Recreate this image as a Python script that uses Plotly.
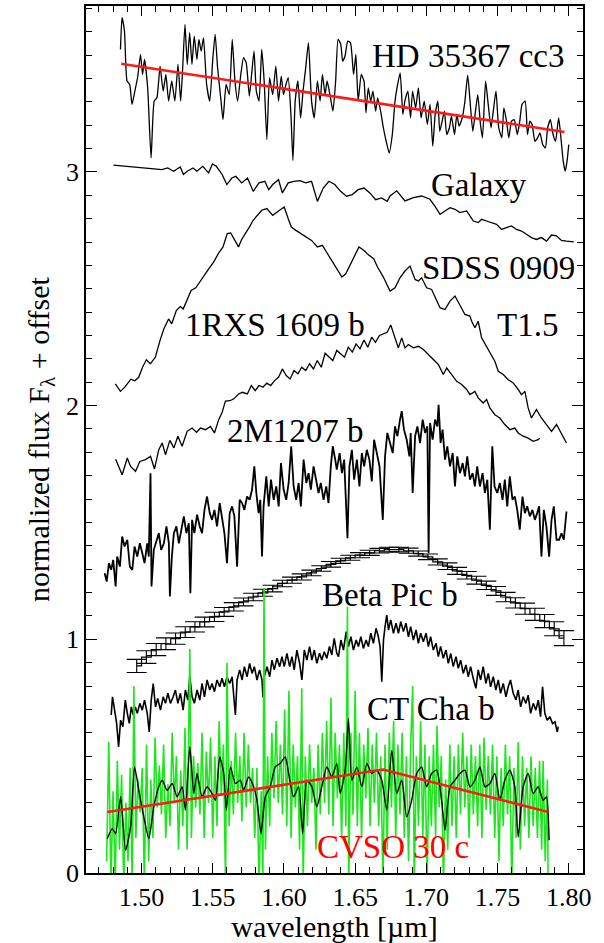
import plotly.graph_objects as go

# ---------------- data (wavelength [um], normalized flux + offset) ----------------
hd35367 = [
(1.4852,3.524),(1.4863,3.660),(1.4880,3.603),(1.4898,3.389),(1.4917,3.374),(1.4933,3.289),(1.4953,3.346),
(1.4972,3.403),(1.4993,3.503),(1.5007,3.417),(1.5021,3.481),(1.5043,3.360),(1.5067,3.060),(1.5089,3.303),
(1.5108,3.317),(1.5130,3.453),(1.5152,3.346),(1.5171,3.417),(1.5190,3.303),(1.5212,3.389),(1.5234,3.303),
(1.5256,3.460),(1.5275,3.303),(1.5289,3.446),(1.5305,3.631),(1.5321,3.460),(1.5338,3.596),(1.5354,3.460),
(1.5370,3.581),(1.5389,3.481),(1.5403,3.567),(1.5419,3.517),(1.5435,3.574),(1.5457,3.374),(1.5479,3.303),
(1.5501,3.489),(1.5517,3.589),(1.5534,3.446),(1.5556,3.317),(1.5572,3.224),(1.5594,3.374),(1.5616,3.331),
(1.5637,3.567),(1.5656,3.389),(1.5675,3.303),(1.5697,3.417),(1.5716,3.489),(1.5735,3.467),(1.5757,3.324),
(1.5773,3.417),(1.5790,3.517),(1.5806,3.346),(1.5825,3.303),(1.5844,3.524),(1.5861,3.389),(1.5880,3.139),
(1.5899,3.403),(1.5921,3.331),(1.5943,3.453),(1.5962,3.303),(1.5981,3.410),(1.5997,3.331),(1.6014,3.374),
(1.6030,3.403),(1.6049,3.246),(1.6063,3.049),(1.6079,3.303),(1.6098,3.389),(1.6117,3.231),(1.6134,3.346),
(1.6153,3.446),(1.6172,3.553),(1.6194,3.303),(1.6213,3.231),(1.6235,3.389),(1.6254,3.303),(1.6270,3.417),
(1.6289,3.331),(1.6303,3.389),(1.6325,3.324),(1.6344,3.260),(1.6363,3.389),(1.6380,3.567),(1.6399,3.546),
(1.6412,3.474),(1.6429,3.496),(1.6448,3.560),(1.6467,3.553),(1.6489,3.417),(1.6505,3.503),(1.6521,3.303),
(1.6543,3.417),(1.6562,3.389),(1.6576,3.253),(1.6592,3.360),(1.6609,3.303),(1.6625,3.346),(1.6644,3.260),
(1.6658,3.317),(1.6679,3.260),(1.6698,3.189),(1.6718,3.131),(1.6739,3.081),(1.6761,3.160),(1.6780,3.303),
(1.6794,3.360),(1.6816,3.424),(1.6835,3.246),(1.6849,3.303),(1.6870,3.346),(1.6889,3.231),(1.6903,3.346),
(1.6925,3.274),(1.6944,3.360),(1.6963,3.231),(1.6985,3.303),(1.7007,3.203),(1.7026,3.289),(1.7045,3.110),
(1.7062,3.246),(1.7081,3.303),(1.7094,3.174),(1.7111,3.217),(1.7127,3.260),(1.7143,3.160),(1.7162,3.189),
(1.7176,3.239),(1.7198,3.160),(1.7214,3.246),(1.7230,3.196),(1.7252,3.231),(1.7271,3.303),(1.7290,3.414),
(1.7307,3.303),(1.7326,3.174),(1.7345,3.260),(1.7361,3.331),(1.7380,3.203),(1.7394,3.146),(1.7416,3.389),
(1.7432,3.303),(1.7454,3.189),(1.7470,3.260),(1.7489,3.346),(1.7508,3.189),(1.7530,3.146),(1.7544,3.274),
(1.7563,3.217),(1.7579,3.146),(1.7598,3.217),(1.7617,3.224),(1.7639,3.160),(1.7656,3.217),(1.7672,3.289),
(1.7694,3.303),(1.7710,3.160),(1.7727,3.217),(1.7743,3.203),(1.7762,3.131),(1.7781,3.146),(1.7798,3.167),
(1.7817,3.117),(1.7836,3.103),(1.7852,3.189),(1.7871,3.224),(1.7890,3.160),(1.7907,3.131),(1.7929,3.231),
(1.7945,3.146),(1.7961,3.046),(1.7975,3.003),(1.7988,3.046),(1.8000,3.117)]
hd35367_fit = [(1.4857,3.463),(1.7970,3.171)]

galaxy = [
(1.4803,3.029),(1.5103,3.010),(1.5143,3.010),(1.5184,3.017),(1.5225,3.003),(1.5272,3.021),(1.5294,2.989),
(1.5321,3.003),(1.5362,3.017),(1.5389,3.003),(1.5430,3.024),(1.5471,2.996),(1.5498,3.034),(1.5525,3.024),
(1.5566,2.989),(1.5599,2.946),(1.5634,2.974),(1.5662,2.981),(1.5703,2.953),(1.5744,2.974),(1.5784,2.917),
(1.5825,2.953),(1.5866,2.960),(1.5893,2.924),(1.5921,2.946),(1.5962,2.967),(1.5989,2.910),(1.6030,2.953),
(1.6071,2.960),(1.6112,2.963),(1.6153,2.953),(1.6194,2.960),(1.6235,2.874),(1.6276,2.931),(1.6316,2.960),
(1.6357,2.946),(1.6398,2.917),(1.6439,2.896),(1.6480,2.903),(1.6521,2.924),(1.6562,2.931),(1.6603,2.910),
(1.6644,2.881),(1.6685,2.889),(1.6725,2.874),(1.6745,2.897),(1.6792,2.919),(1.6850,2.876),(1.6909,2.890),
(1.6967,2.897),(1.7025,2.883),(1.7060,2.854),(1.7096,2.819),(1.7131,2.833),(1.7166,2.847),(1.7201,2.840),
(1.7236,2.826),(1.7283,2.833),(1.7330,2.790),(1.7364,2.783),(1.7388,2.797),(1.7423,2.790),(1.7458,2.783),
(1.7493,2.776),(1.7528,2.754),(1.7563,2.761),(1.7598,2.769),(1.7633,2.754),(1.7668,2.747),(1.7703,2.733),
(1.7738,2.719),(1.7773,2.711),(1.7808,2.719),(1.7844,2.704),(1.7879,2.730),(1.7914,2.726),(1.7949,2.707),
(1.7984,2.704),(1.8035,2.701)]

sdss0909 = [
(1.4816,2.093),(1.4852,2.061),(1.4884,2.080),(1.4925,2.113),(1.4953,2.106),(1.4980,2.121),(1.5007,2.164),
(1.5034,2.196),(1.5062,2.179),(1.5097,2.207),(1.5130,2.279),(1.5157,2.329),(1.5190,2.371),(1.5212,2.350),
(1.5244,2.407),(1.5272,2.424),(1.5293,2.414),(1.5321,2.457),(1.5348,2.493),(1.5381,2.504),(1.5408,2.529),
(1.5441,2.557),(1.5473,2.586),(1.5506,2.614),(1.5539,2.650),(1.5572,2.679),(1.5602,2.736),(1.5626,2.739),
(1.5653,2.707),(1.5681,2.679),(1.5703,2.711),(1.5730,2.736),(1.5757,2.764),(1.5784,2.793),(1.5812,2.814),
(1.5844,2.836),(1.5880,2.843),(1.5921,2.814),(1.5962,2.833),(1.6002,2.850),(1.6030,2.800),(1.6052,2.764),
(1.6084,2.750),(1.6117,2.736),(1.6153,2.721),(1.6194,2.707),(1.6235,2.679),(1.6270,2.686),(1.6303,2.653),
(1.6336,2.621),(1.6371,2.586),(1.6407,2.550),(1.6434,2.564),(1.6467,2.607),(1.6500,2.650),(1.6527,2.679),
(1.6562,2.664),(1.6597,2.643),(1.6630,2.629),(1.6657,2.593),(1.6698,2.550),(1.6733,2.504),(1.6745,2.490),
(1.6780,2.504),(1.6815,2.547),(1.6850,2.576),(1.6885,2.597),(1.6921,2.540),(1.6944,2.533),(1.6967,2.547),
(1.7002,2.504),(1.7037,2.497),(1.7072,2.454),(1.7096,2.419),(1.7131,2.411),(1.7166,2.447),(1.7201,2.469),
(1.7236,2.426),(1.7271,2.390),(1.7306,2.383),(1.7318,2.361),(1.7341,2.333),(1.7364,2.361),(1.7388,2.290),
(1.7423,2.254),(1.7458,2.219),(1.7481,2.190),(1.7505,2.147),(1.7540,2.133),(1.7575,2.111),(1.7610,2.097),
(1.7645,2.069),(1.7668,2.047),(1.7692,2.061),(1.7715,1.990),(1.7738,1.947),(1.7773,1.983),(1.7808,1.947),
(1.7844,1.919),(1.7879,1.890),(1.7914,1.919),(1.7949,1.876),(1.7984,1.840)]

rxs1609 = [
(1.4818,1.771),(1.4864,1.704),(1.4900,1.776),(1.4923,1.740),(1.4958,1.719),(1.4988,1.761),(1.5028,1.769),
(1.5063,1.783),(1.5091,1.729),(1.5121,1.811),(1.5145,1.840),(1.5168,1.790),(1.5199,1.851),(1.5227,1.819),
(1.5255,1.869),(1.5285,1.826),(1.5320,1.890),(1.5355,1.904),(1.5386,1.886),(1.5414,1.904),(1.5449,1.897),
(1.5484,1.911),(1.5512,1.883),(1.5542,1.940),(1.5565,1.969),(1.5589,2.019),(1.5621,2.021),(1.5648,2.029),
(1.5681,2.050),(1.5708,2.057),(1.5743,2.050),(1.5771,2.086),(1.5798,2.064),(1.5825,2.086),(1.5852,2.079),
(1.5880,2.096),(1.5907,2.086),(1.5934,2.107),(1.5962,2.121),(1.5989,2.157),(1.6016,2.129),(1.6043,2.114),
(1.6071,2.150),(1.6098,2.136),(1.6125,2.164),(1.6153,2.150),(1.6180,2.179),(1.6207,2.157),(1.6234,2.193),
(1.6262,2.164),(1.6289,2.224),(1.6316,2.207),(1.6343,2.193),(1.6371,2.236),(1.6398,2.221),(1.6425,2.207),
(1.6452,2.250),(1.6480,2.229),(1.6507,2.264),(1.6534,2.243),(1.6562,2.281),(1.6589,2.250),(1.6616,2.293),
(1.6643,2.271),(1.6671,2.300),(1.6698,2.307),(1.6725,2.314),(1.6750,2.345),(1.6780,2.290),(1.6803,2.247),
(1.6827,2.290),(1.6850,2.247),(1.6874,2.261),(1.6909,2.247),(1.6944,2.254),(1.6979,2.240),(1.7014,2.219),
(1.7049,2.197),(1.7084,2.176),(1.7119,2.133),(1.7143,2.161),(1.7178,2.133),(1.7213,2.104),(1.7248,2.090),
(1.7283,2.069),(1.7306,2.047),(1.7341,2.061),(1.7364,2.033),(1.7399,2.011),(1.7423,2.026),(1.7446,1.990),
(1.7481,1.961),(1.7516,1.947),(1.7551,1.919),(1.7587,1.897),(1.7621,1.904),(1.7645,1.883),(1.7680,1.869),
(1.7715,1.861),(1.7750,1.847),(1.7785,1.854),(1.7797,1.861)]

m1207 = [
(1.4741,1.283),(1.4755,1.247),(1.4771,1.326),(1.4787,1.297),(1.4801,1.340),(1.4818,1.226),(1.4829,1.354),
(1.4848,1.311),(1.4864,1.440),(1.4881,1.397),(1.4900,1.426),(1.4918,1.311),(1.4935,1.297),(1.4951,1.397),
(1.4970,1.354),(1.4988,1.411),(1.5005,1.369),(1.5021,1.326),(1.5040,1.411),(1.5051,1.354),(1.5063,1.711),
(1.5070,1.226),(1.5086,1.383),(1.5105,1.426),(1.5121,1.454),(1.5138,1.383),(1.5157,1.411),(1.5175,1.483),
(1.5192,1.411),(1.5199,1.183),(1.5213,1.354),(1.5227,1.454),(1.5245,1.483),(1.5262,1.411),(1.5278,1.469),
(1.5297,1.526),(1.5315,1.454),(1.5332,1.497),(1.5343,1.197),(1.5355,1.511),(1.5371,1.454),(1.5390,1.533),
(1.5409,1.483),(1.5425,1.454),(1.5442,1.554),(1.5460,1.611),(1.5479,1.540),(1.5495,1.511),(1.5512,1.554),
(1.5530,1.483),(1.5549,1.583),(1.5565,1.526),(1.5582,1.454),(1.5600,1.326),(1.5619,1.540),(1.5636,1.569),
(1.5652,1.526),(1.5671,1.311),(1.5689,1.597),(1.5706,1.583),(1.5722,1.554),(1.5741,1.611),(1.5759,1.597),
(1.5776,1.640),(1.5792,1.740),(1.5806,1.626),(1.5822,1.540),(1.5834,1.597),(1.5846,1.354),(1.5857,1.569),
(1.5876,1.697),(1.5893,1.569),(1.5909,1.683),(1.5928,1.597),(1.5946,1.654),(1.5963,1.569),(1.5979,1.754),
(1.5998,1.640),(1.6016,1.597),(1.6033,1.669),(1.6051,1.826),(1.6068,1.654),(1.6086,1.597),(1.6103,1.669),
(1.6119,1.569),(1.6138,1.769),(1.6157,1.669),(1.6173,1.711),(1.6189,1.640),(1.6208,1.740),(1.6227,1.683),
(1.6243,1.626),(1.6259,1.669),(1.6278,1.597),(1.6297,1.654),(1.6313,1.583),(1.6329,1.740),(1.6343,1.826),
(1.6360,1.769),(1.6371,1.726),(1.6391,1.797),(1.6407,1.711),(1.6423,1.769),(1.6446,1.433),(1.6460,1.740),
(1.6477,1.811),(1.6493,1.683),(1.6512,1.769),(1.6530,1.654),(1.6547,1.797),(1.6563,1.740),(1.6582,1.811),
(1.6600,1.769),(1.6617,1.676),(1.6633,1.854),(1.6652,1.797),(1.6671,1.740),(1.6694,1.511),(1.6710,1.783),
(1.6726,1.883),(1.6745,1.840),(1.6764,1.797),(1.6780,1.911),(1.6797,1.869),(1.6815,1.940),(1.6827,1.976),
(1.6843,1.897),(1.6862,1.854),(1.6881,1.783),(1.6890,1.883),(1.6904,1.626),(1.6921,1.869),(1.6937,1.911),
(1.6956,1.840),(1.6974,1.940),(1.6991,1.883),(1.7007,1.911),(1.7016,1.369),(1.7026,1.926),(1.7044,1.854),
(1.7061,1.940),(1.7077,1.911),(1.7086,2.004),(1.7100,1.840),(1.7114,1.897),(1.7131,1.769),(1.7147,1.826),
(1.7166,1.740),(1.7185,1.797),(1.7201,1.654),(1.7217,1.783),(1.7236,1.711),(1.7255,1.754),(1.7271,1.697),
(1.7287,1.783),(1.7306,1.683),(1.7325,1.711),(1.7341,1.654),(1.7357,1.740),(1.7376,1.654),(1.7395,1.711),
(1.7411,1.626),(1.7428,1.683),(1.7446,1.469),(1.7463,1.826),(1.7479,1.654),(1.7498,1.626),(1.7516,1.669),
(1.7535,1.597),(1.7551,1.683),(1.7568,1.569),(1.7586,1.697),(1.7605,1.597),(1.7621,1.611),(1.7638,1.554),
(1.7656,1.469),(1.7675,1.611),(1.7692,1.540),(1.7708,1.569),(1.7727,1.526),(1.7745,1.554),(1.7762,1.511),
(1.7778,1.540),(1.7792,1.569),(1.7808,1.354),(1.7825,1.554),(1.7843,1.483),(1.7862,1.354),(1.7879,1.511),
(1.7895,1.569),(1.7914,1.426),(1.7932,1.426),(1.7949,1.454),(1.7965,1.426),(1.7984,1.547)]

betapic_wave = [1.4966,1.5034,1.5103,1.5171,1.5239,1.5307,1.5375,1.5443,1.5512,1.5580,1.5648,1.5716,
                1.5784,1.5852,1.5921,1.5989,1.6057,1.6125,1.6193,1.6262,1.6330,1.6398,1.6466,1.6534,
                1.6602,1.6671,1.6739,1.6807,1.6875,1.6943,1.7011,1.7080,1.7148,1.7216,1.7284,1.7352,
                1.7421,1.7489,1.7557,1.7625,1.7693,1.7762,1.7830,1.7898,1.7966]
betapic_flux = [0.886,0.924,0.956,0.981,1.003,1.031,1.053,1.074,1.096,1.117,1.139,1.160,
                1.181,1.199,1.217,1.239,1.253,1.267,1.284,1.303,1.321,1.336,1.349,1.360,
                1.370,1.379,1.384,1.384,1.379,1.367,1.353,1.331,1.313,1.293,1.274,1.253,
                1.231,1.207,1.181,1.156,1.131,1.107,1.078,1.045,1.005]
betapic_err = [0.028,0.027,0.026,0.025,0.024,0.023,0.022,0.021,0.020,0.019,0.018,0.017,
               0.016,0.015,0.014,0.014,0.013,0.013,0.012,0.012,0.012,0.011,0.011,0.011,
               0.011,0.010,0.010,0.010,0.011,0.011,0.012,0.013,0.014,0.015,0.016,0.017,
               0.018,0.019,0.020,0.022,0.024,0.026,0.028,0.030,0.032]

ctcha = [
(1.4787,0.676),(1.4796,0.754),(1.4811,0.697),(1.4825,0.640),(1.4839,0.540),(1.4853,0.654),(1.4869,0.626),
(1.4886,0.740),(1.4900,0.683),(1.4914,0.640),(1.4928,0.711),(1.4942,0.676),(1.4956,0.711),(1.4970,0.683),
(1.4988,0.726),(1.5005,0.697),(1.5021,0.740),(1.5040,0.683),(1.5054,0.604),(1.5068,0.740),(1.5082,0.811),
(1.5098,0.711),(1.5114,0.747),(1.5133,0.697),(1.5152,0.754),(1.5168,0.726),(1.5185,0.769),(1.5203,0.726),
(1.5222,0.754),(1.5238,0.783),(1.5255,0.726),(1.5273,0.769),(1.5292,0.697),(1.5308,0.783),(1.5325,0.740),
(1.5339,0.840),(1.5355,0.754),(1.5371,0.726),(1.5390,0.783),(1.5409,0.740),(1.5425,0.811),(1.5442,0.754),
(1.5460,0.826),(1.5479,0.783),(1.5495,0.811),(1.5512,0.776),(1.5530,0.826),(1.5549,0.797),(1.5565,0.833),
(1.5582,0.797),(1.5600,0.840),(1.5619,0.811),(1.5636,0.840),(1.5647,0.769),(1.5659,0.676),(1.5671,0.826),
(1.5689,0.869),(1.5706,0.826),(1.5722,0.883),(1.5741,0.840),(1.5759,0.897),(1.5776,0.854),(1.5792,0.883),
(1.5811,0.826),(1.5829,0.869),(1.5846,0.826),(1.5853,0.751),(1.5862,0.840),(1.5881,0.883),(1.5900,0.840),
(1.5916,0.911),(1.5932,0.869),(1.5951,0.919),(1.5970,0.883),(1.5986,0.926),(1.6002,0.883),(1.6021,0.940),
(1.6040,0.883),(1.6056,0.926),(1.6072,0.869),(1.6091,0.954),(1.6110,0.897),(1.6126,0.826),(1.6143,0.954),
(1.6161,0.911),(1.6180,0.969),(1.6196,0.911),(1.6213,0.954),(1.6231,0.897),(1.6250,0.940),(1.6266,0.911),
(1.6283,0.947),(1.6301,0.919),(1.6320,0.969),(1.6336,0.933),(1.6353,1.004),(1.6371,0.940),(1.6383,0.926),
(1.6400,0.997),(1.6418,0.954),(1.6437,1.033),(1.6453,0.969),(1.6470,1.011),(1.6488,0.954),(1.6507,0.997),
(1.6523,0.969),(1.6540,1.011),(1.6558,0.961),(1.6577,0.997),(1.6593,0.969),(1.6610,1.026),(1.6628,0.983),
(1.6647,1.047),(1.6663,1.011),(1.6675,0.969),(1.6687,0.819),(1.6699,0.997),(1.6710,1.054),(1.6722,1.104),
(1.6734,1.040),(1.6750,1.083),(1.6769,1.026),(1.6787,1.069),(1.6804,1.026),(1.6820,1.076),(1.6839,1.033),
(1.6857,1.069),(1.6874,1.011),(1.6890,1.054),(1.6909,0.997),(1.6928,1.040),(1.6944,0.983),(1.6960,1.026),
(1.6979,0.990),(1.6998,1.026),(1.7014,0.969),(1.7030,1.011),(1.7049,0.954),(1.7068,0.983),(1.7084,0.926),
(1.7100,0.969),(1.7119,0.919),(1.7138,0.954),(1.7154,0.897),(1.7171,0.940),(1.7189,0.883),(1.7208,0.926),
(1.7224,0.876),(1.7241,0.911),(1.7259,0.854),(1.7278,0.890),(1.7294,0.840),(1.7311,0.883),(1.7329,0.833),
(1.7348,0.790),(1.7364,0.869),(1.7381,0.826),(1.7399,0.883),(1.7418,0.811),(1.7435,0.854),(1.7451,0.797),
(1.7470,0.840),(1.7488,0.783),(1.7505,0.826),(1.7521,0.769),(1.7540,0.811),(1.7559,0.754),(1.7575,0.797),
(1.7591,0.826),(1.7610,0.769),(1.7629,0.740),(1.7645,0.783),(1.7662,0.711),(1.7680,0.754),(1.7699,0.726),
(1.7715,0.761),(1.7732,0.683),(1.7751,0.726),(1.7769,0.697),(1.7786,0.740),(1.7802,0.669),(1.7816,0.797),
(1.7832,0.683),(1.7849,0.654),(1.7867,0.669),(1.7886,0.640),(1.7903,0.647),(1.7919,0.604),(1.7926,0.626)]

cvso30c_raw = [
(1.4755,0.05),(1.4770,0.56),(1.4785,-0.05),(1.4800,0.35),(1.4815,-0.05),(1.4830,0.48),(1.4845,0.10),
(1.4860,0.42),(1.4875,-0.05),(1.4890,0.30),(1.4905,0.05),(1.4920,0.45),(1.4935,-0.05),(1.4946,0.80),
(1.4960,0.15),(1.4975,0.40),(1.4990,0.26),(1.5005,0.45),(1.5020,-0.05),(1.5035,0.55),(1.5050,0.05),
(1.5065,0.40),(1.5080,0.15),(1.5095,0.58),(1.5110,0.28),(1.5125,0.46),(1.5140,0.25),(1.5155,0.55),
(1.5170,0.15),(1.5185,0.38),(1.5200,0.20),(1.5215,0.60),(1.5230,0.30),(1.5245,0.50),(1.5260,0.10),
(1.5275,0.44),(1.5290,0.20),(1.5305,0.62),(1.5320,0.10),(1.5339,0.96),(1.5350,0.15),(1.5365,0.50),
(1.5380,0.28),(1.5395,0.47),(1.5410,0.25),(1.5425,0.60),(1.5440,0.15),(1.5455,0.52),(1.5470,0.30),
(1.5485,0.58),(1.5500,0.15),(1.5515,0.50),(1.5530,0.20),(1.5545,0.65),(1.5560,0.33),(1.5575,0.55),
(1.5590,-0.05),(1.5600,0.90),(1.5615,0.20),(1.5630,0.48),(1.5645,0.25),(1.5660,0.60),(1.5675,0.30),
(1.5690,0.50),(1.5705,0.22),(1.5720,0.60),(1.5735,0.28),(1.5750,0.55),(1.5765,0.30),(1.5780,0.45),
(1.5795,0.15),(1.5810,0.45),(1.5825,-0.05),(1.5840,0.35),(1.5852,-0.05),(1.5860,1.22),(1.5870,0.10),
(1.5885,0.50),(1.5900,0.20),(1.5915,0.60),(1.5930,0.32),(1.5945,0.65),(1.5960,0.30),(1.5975,0.55),
(1.5990,0.25),(1.6005,0.70),(1.6020,0.20),(1.6035,0.78),(1.6050,0.15),(1.6065,0.55),(1.6080,0.28),
(1.6095,0.50),(1.6110,0.10),(1.6125,0.79),(1.6135,-0.05),(1.6150,0.50),(1.6165,0.20),(1.6180,0.55),
(1.6195,0.30),(1.6210,0.45),(1.6225,0.10),(1.6240,0.55),(1.6255,0.25),(1.6270,0.60),(1.6285,0.30),
(1.6300,0.65),(1.6315,0.25),(1.6330,0.75),(1.6345,0.20),(1.6360,0.60),(1.6375,0.32),(1.6390,0.55),
(1.6405,0.15),(1.6420,0.60),(1.6435,0.20),(1.6446,1.14),(1.6455,-0.05),(1.6470,0.60),(1.6485,0.25),
(1.6500,0.78),(1.6515,0.20),(1.6530,0.60),(1.6545,0.15),(1.6560,0.55),(1.6575,0.32),(1.6590,0.62),
(1.6605,0.20),(1.6620,0.55),(1.6635,0.30),(1.6650,0.60),(1.6665,0.20),(1.6680,0.50),(1.6695,-0.05),
(1.6710,0.55),(1.6725,0.10),(1.6740,0.60),(1.6755,0.28),(1.6770,0.65),(1.6785,0.15),(1.6800,0.55),
(1.6815,0.25),(1.6830,0.60),(1.6845,0.15),(1.6860,0.50),(1.6875,0.05),(1.6890,0.55),(1.6904,0.80),
(1.6915,-0.05),(1.6930,0.50),(1.6945,0.20),(1.6960,0.65),(1.6975,0.15),(1.6990,0.55),(1.7005,-0.05),
(1.7020,0.50),(1.7035,0.20),(1.7050,0.55),(1.7065,0.15),(1.7075,0.63),(1.7090,0.28),(1.7105,0.50),
(1.7120,-0.05),(1.7135,0.40),(1.7150,0.10),(1.7165,0.55),(1.7180,0.20),(1.7195,0.50),(1.7210,0.15),
(1.7225,0.55),(1.7240,0.25),(1.7255,0.60),(1.7270,0.28),(1.7285,0.50),(1.7300,0.15),(1.7315,0.55),
(1.7330,0.25),(1.7345,0.50),(1.7360,0.20),(1.7375,0.55),(1.7390,0.15),(1.7405,0.58),(1.7420,0.27),
(1.7435,0.50),(1.7450,0.25),(1.7465,0.55),(1.7480,0.15),(1.7495,0.50),(1.7510,0.05),(1.7525,0.45),
(1.7540,0.20),(1.7555,0.55),(1.7570,0.25),(1.7585,0.50),(1.7600,-0.05),(1.7615,0.45),(1.7630,0.15),
(1.7645,0.56),(1.7660,0.10),(1.7675,0.50),(1.7690,0.20),(1.7705,0.45),(1.7720,0.15),(1.7735,0.50),
(1.7750,0.20),(1.7765,0.45),(1.7780,0.15),(1.7795,0.48),(1.7810,0.10),(1.7820,0.48),(1.7835,0.05),
(1.7850,0.40),(1.7855,-0.05)]

cvso30c_smooth = [
(1.4759,0.147),(1.4794,0.190),(1.4818,0.169),(1.4853,0.326),(1.4888,0.097),(1.4923,0.197),(1.4951,0.454),
(1.4981,0.354),(1.5016,0.240),(1.5051,0.147),(1.5086,0.283),(1.5121,0.369),(1.5145,0.397),(1.5180,0.354),
(1.5215,0.383),(1.5250,0.326),(1.5285,0.369),(1.5308,0.269),(1.5339,0.540),(1.5367,0.340),(1.5390,0.426),
(1.5425,0.326),(1.5460,0.369),(1.5495,0.340),(1.5519,0.311),(1.5549,0.497),(1.5577,0.426),(1.5596,0.269),
(1.5624,0.454),(1.5659,0.383),(1.5694,0.397),(1.5717,0.354),(1.5752,0.411),(1.5787,0.369),(1.5811,0.311),
(1.5839,0.169),(1.5869,0.326),(1.5904,0.369),(1.5939,0.454),(1.5974,0.469),(1.6009,0.497),(1.6037,0.411),
(1.6068,0.326),(1.6103,0.369),(1.6131,0.169),(1.6161,0.397),(1.6196,0.369),(1.6231,0.283),(1.6266,0.369),
(1.6301,0.454),(1.6336,0.411),(1.6371,0.469),(1.6395,0.340),(1.6430,0.440),(1.6453,0.661),(1.6477,0.397),
(1.6512,0.454),(1.6547,0.369),(1.6582,0.469),(1.6617,0.426),(1.6652,0.440),(1.6687,0.397),(1.6722,0.269),
(1.6757,0.526),(1.6792,0.340),(1.6827,0.397),(1.6862,0.240),(1.6897,0.311),(1.6932,0.426),(1.6967,0.454),
(1.7002,0.369),(1.7037,0.426),(1.7072,0.440),(1.7107,0.311),(1.7131,0.183),(1.7166,0.369),(1.7201,0.397),
(1.7236,0.426),(1.7271,0.440),(1.7306,0.369),(1.7341,0.397),(1.7376,0.454),(1.7411,0.369),(1.7446,0.383),
(1.7481,0.426),(1.7516,0.311),(1.7551,0.397),(1.7586,0.440),(1.7621,0.369),(1.7645,0.154),(1.7680,0.369),
(1.7715,0.426),(1.7750,0.340),(1.7785,0.369),(1.7820,0.311),(1.7843,0.326),(1.7862,0.140)]
cvso30c_fit = [(1.4760,0.261),(1.6697,0.443),(1.7855,0.261)]

labels = [
("HD 35367 cc3", 1.729, 3.498, "black"),
("Galaxy", 1.7370, 2.946, "black"),
("SDSS 0909", 1.751, 2.590, "black"),
("T1.5", 1.771, 2.347, "black"),
("1RXS 1609 b", 1.594, 2.347, "black"),
("2M1207 b", 1.608, 1.891, "black"),
("Beta Pic b", 1.6746, 1.189, "black"),
("CT Cha b", 1.703, 0.703, "black"),
("CVSO 30 c", 1.6766, 0.111, "#ff0000"),
]

x_range = [1.461, 1.810]
y_range = [0.0, 3.71]

# ---------------- figure ----------------
def xy(pairs):
    return [p[0] for p in pairs], [p[1] for p in pairs]

fig = go.Figure()

def add_line(pairs, color, width, shape="linear", smoothing=None):
    x, y = xy(pairs)
    line = dict(color=color, width=width, shape=shape)
    if smoothing is not None:
        line["smoothing"] = smoothing
    fig.add_trace(go.Scatter(x=x, y=y, mode="lines", line=line, hoverinfo="skip"))

add_line(hd35367, "black", 1.3, "spline", 0.5)
add_line(hd35367_fit, "#ff1a1a", 2.6)
add_line(galaxy, "black", 1.3)
add_line(sdss0909, "black", 1.3)
add_line(rxs1609, "black", 1.3)
add_line(m1207, "black", 1.8)

fig.add_trace(go.Scatter(x=betapic_wave, y=betapic_flux, mode="lines",
                         line=dict(color="black", width=1.2, shape="hvh"),
                         error_y=dict(type="data", array=betapic_err, visible=True,
                                      color="black", thickness=1.1, width=10),
                         hoverinfo="skip"))

add_line(ctcha, "black", 1.6)
add_line(cvso30c_raw, "#1ee61e", 1.6)
add_line(cvso30c_smooth, "black", 1.4, "spline", 0.6)
add_line(cvso30c_fit, "#ff1a1a", 2.6)

for text, lx, ly, col in labels:
    fig.add_annotation(x=lx, y=ly, text=text, showarrow=False,
                       xanchor="center", yanchor="middle",
                       font=dict(family="Liberation Serif", size=33, color=col))

axis_common = dict(showline=True, linecolor="black", linewidth=1.5, mirror="ticks",
                   ticks="inside", tickcolor="black", tickwidth=1.2,
                   showgrid=False, zeroline=False, automargin=False,
                   tickfont=dict(family="Liberation Serif", size=26, color="black"))

fig.update_xaxes(range=x_range, tick0=1.5, dtick=0.05, tickformat=".2f", ticklen=10,
                 minor=dict(dtick=0.01, tick0=1.5, ticks="inside", ticklen=6,
                            tickcolor="black", tickwidth=1, showgrid=False),
                 title=dict(text="wavelength [µm]", standoff=4,
                            font=dict(family="Liberation Serif", size=30, color="black")),
                 **axis_common)
fig.update_yaxes(range=y_range, tick0=0, dtick=1, ticklen=11,
                 minor=dict(dtick=0.1, tick0=0, ticks="inside", ticklen=6,
                            tickcolor="black", tickwidth=1, showgrid=False),
                 title=dict(text="normalized flux F<sub>λ</sub> + offset", standoff=8,
                            font=dict(family="Liberation Serif", size=30, color="black")),
                 **axis_common)

fig.update_layout(width=604, height=943, showlegend=False,
                  margin=dict(l=86, r=21, t=6, b=70),
                  plot_bgcolor="white", paper_bgcolor="white",
                  font=dict(family="Liberation Serif", color="black"))

fig.write_html("out.html", config={"displayModeBar": False},
               post_script="document.body.style.margin='0px';document.body.style.overflow='hidden';")
